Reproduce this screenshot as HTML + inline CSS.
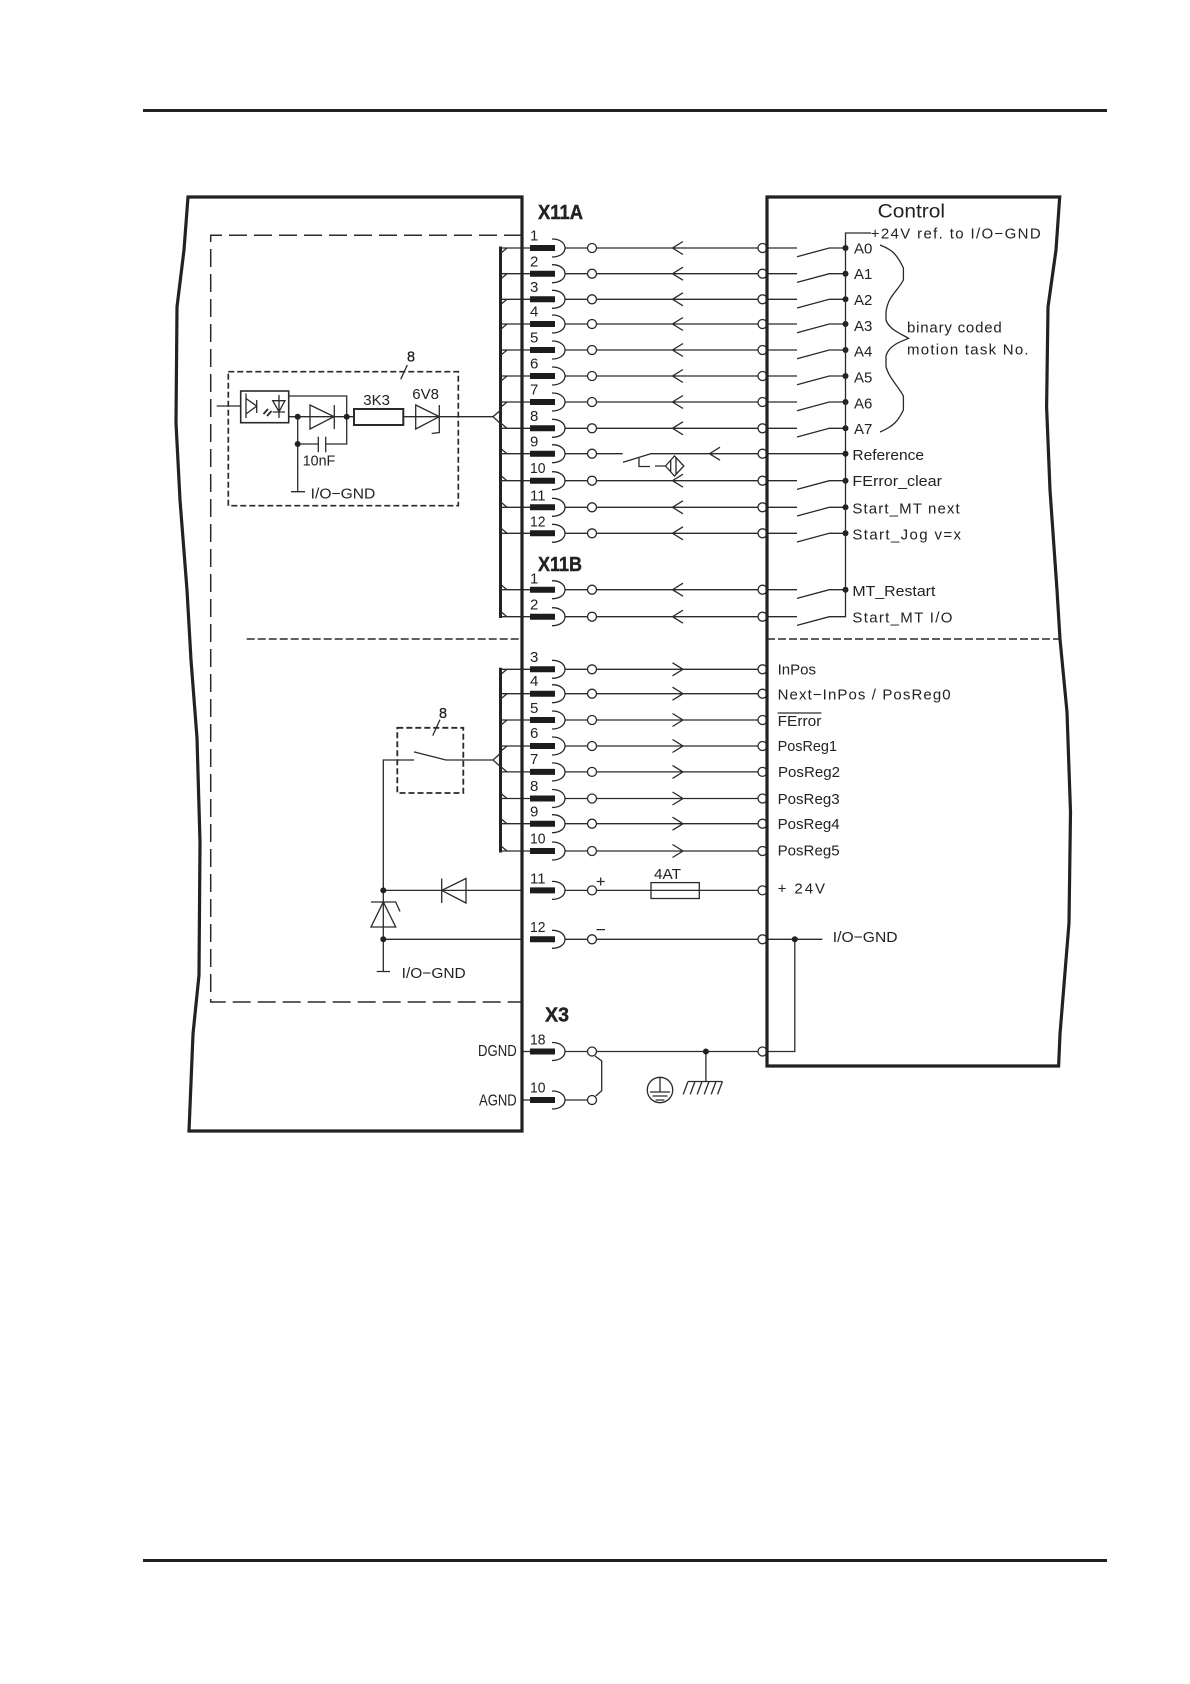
<!DOCTYPE html>
<html><head><meta charset="utf-8"><title>X11A X11B X3 wiring</title>
<style>
html,body{margin:0;padding:0;background:#fff}
svg{display:block}
text{font-family:"Liberation Sans",sans-serif;font-size:15px;fill:#222}
.b{font-weight:bold;font-size:20px;stroke:#222;stroke-width:.4}
.n{font-size:15px}
</style></head><body>
<svg width="1190" height="1684" viewBox="0 0 1190 1684" xmlns="http://www.w3.org/2000/svg">
<defs>
<g id="pc" fill="none" stroke="#2a2a2a" stroke-width="1.3">
<path d="M530 0H555" stroke="#1c1c1c" stroke-width="6"/>
<path d="M552 -9C560 -9 565 -5 565 0C565 5 560 9 552 9"/>
<path d="M565 0H587.5"/>
<circle cx="592" cy="0" r="4.5" fill="#fff"/>
</g>
<g id="pb">
<use href="#pc"/>
<circle cx="762.5" cy="0" r="4.5" fill="#fff" stroke="#2a2a2a" stroke-width="1.3"/>
</g>
<path id="in" fill="none" stroke="#2a2a2a" stroke-width="1.3" d="M596.5 0H758M683 -6.5L672.5 0L683 6.5"/>
<path id="out" fill="none" stroke="#2a2a2a" stroke-width="1.3" d="M596.5 0H758M672.5 -6.5L683 0L672.5 6.5"/>
<g id="sw">
<path fill="none" stroke="#2a2a2a" stroke-width="1.3" d="M767 0H797M797 8.7L829.3 0H845.5"/>
<circle cx="845.5" cy="0" r="3" fill="#222"/>
</g>
<path id="tu" fill="none" stroke="#2a2a2a" stroke-width="1.3" d="M500 0H530M501 5L507 0"/>
<path id="td" fill="none" stroke="#2a2a2a" stroke-width="1.3" d="M500 0H530M501 -5L507 0"/>
</defs>

<rect width="1190" height="1684" fill="#fff"/>
<rect x="143" y="109" width="964" height="3" fill="#222"/>
<rect x="143" y="1559" width="964" height="3" fill="#222"/>

<!-- dashed regions -->
<g fill="none" stroke="#2a2a2a">
<path d="M522 235.3H210.7V1002H522" stroke-width="1.5" stroke-dasharray="18 7"/>
<path d="M246.7 639H522" stroke-width="1.5" stroke-dasharray="8 3"/>
<path d="M767 639H1060" stroke-width="1.5" stroke-dasharray="8 3"/>
<rect x="228.3" y="371.7" width="230" height="134" stroke-width="1.7" stroke-dasharray="6 3"/>
<rect x="397.3" y="727.8" width="66" height="65.2" stroke-width="1.8" stroke-dasharray="6 3"/>
</g>

<!-- buses -->
<path d="M500.5 246.5V618M500.5 667.8V852.5" fill="none" stroke="#222" stroke-width="3"/>

<!-- X11A pins -->
<use href="#tu" y="248"/><use href="#in" y="248"/><use href="#sw" y="248"/><use href="#pb" y="248"/>
<use href="#tu" y="273.7"/><use href="#in" y="273.7"/><use href="#sw" y="273.7"/><use href="#pb" y="273.7"/>
<use href="#tu" y="299.3"/><use href="#in" y="299.3"/><use href="#sw" y="299.3"/><use href="#pb" y="299.3"/>
<use href="#tu" y="324"/><use href="#in" y="324"/><use href="#sw" y="324"/><use href="#pb" y="324"/>
<use href="#tu" y="350"/><use href="#in" y="350"/><use href="#sw" y="350"/><use href="#pb" y="350"/>
<use href="#tu" y="376"/><use href="#in" y="376"/><use href="#sw" y="376"/><use href="#pb" y="376"/>
<use href="#tu" y="402"/><use href="#in" y="402"/><use href="#sw" y="402"/><use href="#pb" y="402"/>
<use href="#td" y="428.3"/><use href="#in" y="428.3"/><use href="#sw" y="428.3"/><use href="#pb" y="428.3"/>
<use href="#td" y="453.7"/><use href="#pb" y="453.7"/>
<use href="#td" y="480.7"/><use href="#in" y="480.7"/><use href="#sw" y="480.7"/><use href="#pb" y="480.7"/>
<use href="#td" y="507.3"/><use href="#in" y="507.3"/><use href="#sw" y="507.3"/><use href="#pb" y="507.3"/>
<use href="#td" y="533.3"/><use href="#in" y="533.3"/><use href="#sw" y="533.3"/><use href="#pb" y="533.3"/>
<!-- X11B inputs -->
<use href="#td" y="589.7"/><use href="#in" y="589.7"/><use href="#sw" y="589.7"/><use href="#pb" y="589.7"/>
<use href="#td" y="616.7"/><use href="#in" y="616.7"/><use href="#pb" y="616.7"/>
<path d="M767 616.7H797M797 625.4L829.3 616.7H845.5V233H871" fill="none" stroke="#2a2a2a" stroke-width="1.3"/>
<!-- pin 9 reference -->
<g fill="none" stroke="#2a2a2a" stroke-width="1.3">
<path d="M596.5 453.7H622.7M623 462.3L650 454M650 453.7H758M720 447.2L709.5 453.7L720 460.2M767 453.7H845.5"/>
<path d="M639 458V466.5H650M655 466H665.5"/>
<path d="M665.5 466L674.5 456L683.8 466L674.5 476ZM670.7 460V472M676 458V474"/>
</g>
<circle cx="845.5" cy="453.7" r="3" fill="#222"/>

<!-- X11B outputs -->
<use href="#tu" y="669.3"/><use href="#out" y="669.3"/><use href="#pb" y="669.3"/>
<use href="#tu" y="693.7"/><use href="#out" y="693.7"/><use href="#pb" y="693.7"/>
<use href="#tu" y="720"/><use href="#out" y="720"/><use href="#pb" y="720"/>
<use href="#tu" y="746"/><use href="#out" y="746"/><use href="#pb" y="746"/>
<use href="#td" y="771.9"/><use href="#out" y="771.9"/><use href="#pb" y="771.9"/>
<use href="#td" y="798.5"/><use href="#out" y="798.5"/><use href="#pb" y="798.5"/>
<use href="#td" y="823.7"/><use href="#out" y="823.7"/><use href="#pb" y="823.7"/>
<use href="#td" y="851"/><use href="#out" y="851"/><use href="#pb" y="851"/>

<g fill="none" stroke="#2a2a2a" stroke-width="1.3">
<!-- 24V -->
<path d="M596.5 890.4H651M699.3 890.4H758"/>
<rect x="651" y="882.6" width="48.3" height="15.9"/>
<path d="M651 890.4H699.3"/>
<path d="M600.7 877.5V885.5M596.7 881.5H604.7M596.5 929.6H605"/>
<!-- GND -->
<path d="M596.5 939.3H758M767 939.3H822.4M794.8 939.3V1051.5H767"/>
<!-- X3 -->
<path d="M522 1051.5H530M522 1100H530M596.5 1051.5H758M595 1056L601.7 1061V1090.7L595.7 1096"/>
<path d="M705.9 1051.5V1081.5M688 1081.5H722.4M688 1081.5L683.2 1094.4M695 1081.5L690.2 1094.4M702 1081.5L697.2 1094.4M709 1081.5L704.2 1094.4M716 1081.5L711.2 1094.4M722.4 1081.5L717.6 1094.4"/>
<circle cx="660" cy="1090" r="12.7"/>
<path d="M660 1077.5V1092M650 1092H670M652.5 1096H667.5M655.5 1100H664.5"/>
<!-- lower left circuit -->
<path d="M383.3 971.5V760H414M414 751.9L446 760H493M376.7 971.5H390"/>
<path d="M383.3 890.4H522M522 939.3H383.3"/>
<path d="M441.7 878.5V903M466 878.5L441.7 890.4L466 903Z"/>
<path d="M383.3 902L371 927H395.7ZM400 911.5L395.7 902H371"/>
<path d="M440 719.6L432.7 735.6"/>
<path d="M502 752L493 760L502 768"/>
<!-- upper left circuit -->
<path d="M216.7 406H240.7"/>
<rect x="240.7" y="391" width="48" height="31.7" stroke-width="1.6"/>
<path d="M246 393.5V418M246 398.5L256.7 406L246 414ZM256.7 400V413"/>
<path d="M279 395V418M272.7 400.7H285L279 411.7ZM272.7 412H285"/>
<path d="M263.5 414L268 409M267 416L271.5 411" stroke-width="1.8"/>
<path d="M288.7 396H346.7V444H325.7M297.7 444H318.3M318.3 436.7V452.3M325.7 436.7V452.3"/>
<path d="M297.7 416.7V491.7M291 491.7H305"/>
<path d="M288.7 416.7H354M403.3 416.7H493"/>
<path d="M310 405L334 416.7L310 429ZM334.3 405V429"/>
<rect x="354" y="409" width="49.3" height="16" stroke-width="2"/>
<path d="M415.7 405L439.3 416.7L415.7 429ZM439.3 405V432.5L431.7 433.5"/>
<path d="M407.3 365L400.7 379.3"/>
<path d="M502 409L493 416.7L502 425"/>
<!-- brace -->
<path d="M880 245C890 249 896 252 903.4 268V280C897 292 888 296 886 312V320C889 329 899 333 908.6 338.3C899 342 889 346 886 355.7V366.7C889 378 898 386 903.4 396V410C898 421 894 426 880 432"/>
</g>

<!-- X3 and power pins -->
<use href="#pb" y="890.4"/>
<use href="#pb" y="939.3"/>
<use href="#pb" y="1051.5"/>
<use href="#pc" y="1100"/>

<g fill="#222">
<circle cx="383.3" cy="890.4" r="3"/><circle cx="383.3" cy="939.3" r="3"/>
<circle cx="794.8" cy="939.3" r="3"/><circle cx="705.9" cy="1051.5" r="3"/>
<circle cx="297.7" cy="416.7" r="3"/><circle cx="346.7" cy="416.7" r="3"/><circle cx="297.7" cy="444" r="3"/>
</g>

<!-- main boxes -->
<g fill="none" stroke="#222" stroke-width="3.2" stroke-linejoin="miter">
<path d="M522 197H188L184 250L177 307L176 423L180 500L187 590L191 660L197 738L200 842L199 975L193 1034L189 1131H522Z"/>
<path d="M767 197H1059.7L1056 250L1048 307L1046.6 407L1050 490L1057 590L1060 639L1067 712L1070.5 812L1069 923L1060 1034L1058.6 1066H767Z"/>
</g>

<!-- titles -->
<text class="b" x="538" y="219" textLength="45" lengthAdjust="spacingAndGlyphs">X11A</text>
<text class="b" x="538" y="571" textLength="44" lengthAdjust="spacingAndGlyphs">X11B</text>
<text class="b" x="545" y="1021.6" textLength="24" lengthAdjust="spacingAndGlyphs">X3</text>
<text x="877.6" y="217.3" style="font-size:19px" textLength="67.4" lengthAdjust="spacingAndGlyphs">Control</text>

<!-- pin numbers -->
<g class="n">
<text x="530" y="240.7">1</text><text x="530" y="266.7">2</text><text x="530" y="292">3</text><text x="530" y="316.7">4</text>
<text x="530" y="342.7">5</text><text x="530" y="368.7">6</text><text x="530" y="394.7">7</text><text x="530" y="421">8</text>
<text x="530" y="446.7">9</text><text x="530" y="473" textLength="15.5" lengthAdjust="spacingAndGlyphs">10</text>
<text x="530" y="500.7" textLength="15.5" lengthAdjust="spacingAndGlyphs">11</text><text x="530" y="526.7" textLength="15.5" lengthAdjust="spacingAndGlyphs">12</text>
<text x="530" y="583.3">1</text><text x="530" y="609.3">2</text>
<text x="530" y="662">3</text><text x="530" y="686">4</text><text x="530" y="713">5</text><text x="530" y="738">6</text>
<text x="530" y="764">7</text><text x="530" y="791">8</text><text x="530" y="816.7">9</text>
<text x="530" y="843.7" textLength="15.5" lengthAdjust="spacingAndGlyphs">10</text>
<text x="530" y="883.3" textLength="15.5" lengthAdjust="spacingAndGlyphs">11</text>
<text x="530" y="931.9" textLength="15.5" lengthAdjust="spacingAndGlyphs">12</text>
<text x="530" y="1044.4" textLength="15.5" lengthAdjust="spacingAndGlyphs">18</text>
<text x="530" y="1092.6" textLength="15.5" lengthAdjust="spacingAndGlyphs">10</text>
</g>

<!-- right labels -->
<text x="870.7" y="238.7" textLength="170" lengthAdjust="spacing">+24V ref. to I/O−GND</text>
<text x="854" y="253.3">A0</text>
<text x="854" y="279">A1</text>
<text x="854" y="305">A2</text>
<text x="854" y="331">A3</text>
<text x="854" y="356.7">A4</text>
<text x="854" y="382.7">A5</text>
<text x="854" y="408.3">A6</text>
<text x="854" y="434">A7</text>
<text x="907" y="332.3" textLength="94.7" lengthAdjust="spacing">binary coded</text>
<text x="907" y="354.3" textLength="121.6" lengthAdjust="spacing">motion task No.</text>
<text x="852.4" y="460" textLength="71.6" lengthAdjust="spacingAndGlyphs">Reference</text>
<text x="852.4" y="486" textLength="89.6" lengthAdjust="spacingAndGlyphs">FError_clear</text>
<text x="852.4" y="513.3" textLength="107.3" lengthAdjust="spacing">Start_MT next</text>
<text x="852.4" y="539.3" textLength="108.6" lengthAdjust="spacing">Start_Jog v=x</text>
<text x="852.4" y="596" textLength="83" lengthAdjust="spacingAndGlyphs">MT_Restart</text>
<text x="852.4" y="622.3" textLength="100" lengthAdjust="spacing">Start_MT I/O</text>
<text x="777.6" y="674.4" textLength="38.4" lengthAdjust="spacingAndGlyphs">InPos</text>
<text x="777.6" y="699.4" textLength="173" lengthAdjust="spacing">Next−InPos / PosReg0</text>
<text x="777.6" y="726" textLength="43.8" lengthAdjust="spacingAndGlyphs">FError</text>
<path d="M777.6 713H821.4" stroke="#2a2a2a" stroke-width="1.2"/>
<text x="777.6" y="750.9" textLength="59.4" lengthAdjust="spacingAndGlyphs">PosReg1</text>
<text x="778" y="776.8" textLength="62" lengthAdjust="spacingAndGlyphs">PosReg2</text>
<text x="777.6" y="804" textLength="62" lengthAdjust="spacingAndGlyphs">PosReg3</text>
<text x="777.6" y="829" textLength="62" lengthAdjust="spacingAndGlyphs">PosReg4</text>
<text x="777.6" y="855.7" textLength="62" lengthAdjust="spacingAndGlyphs">PosReg5</text>
<text x="777.6" y="893.4" textLength="47.4" lengthAdjust="spacing">+ 24V</text>
<text x="832.8" y="942" textLength="64.8" lengthAdjust="spacingAndGlyphs">I/O−GND</text>
<text x="654" y="879" textLength="27" lengthAdjust="spacingAndGlyphs">4AT</text>

<!-- left labels -->
<text x="407" y="361.7" textLength="8" lengthAdjust="spacingAndGlyphs" style="stroke:#222;stroke-width:.3">8</text>
<text x="439" y="717.8" textLength="8" lengthAdjust="spacingAndGlyphs" style="stroke:#222;stroke-width:.3">8</text>
<text x="363.3" y="405" textLength="26.7" lengthAdjust="spacingAndGlyphs">3K3</text>
<text x="412.3" y="399" textLength="26.7" lengthAdjust="spacingAndGlyphs">6V8</text>
<text x="302.7" y="465.7" textLength="32.6" lengthAdjust="spacingAndGlyphs">10nF</text>
<text x="310.7" y="498.3" textLength="64.6" lengthAdjust="spacingAndGlyphs">I/O−GND</text>
<text x="401.7" y="977.8" textLength="64" lengthAdjust="spacingAndGlyphs">I/O−GND</text>
<text x="478" y="1056" textLength="38.7" lengthAdjust="spacingAndGlyphs" style="font-size:16px">DGND</text>
<text x="479" y="1105.7" textLength="37.7" lengthAdjust="spacingAndGlyphs" style="font-size:16px">AGND</text>
</svg>
</body></html>
